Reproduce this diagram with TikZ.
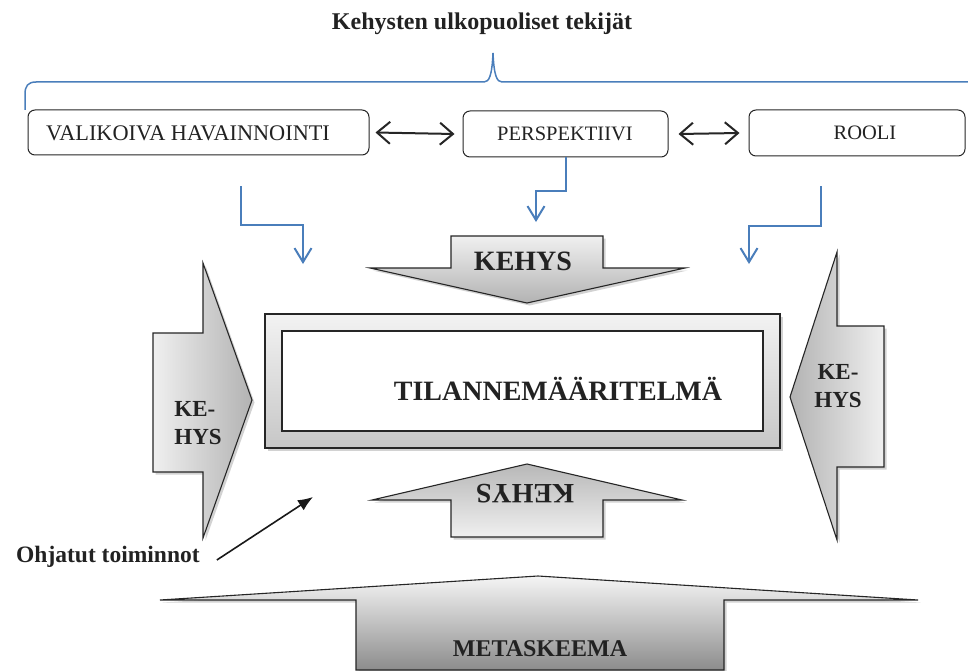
\documentclass[tikz,border=0pt]{standalone}
\usepackage{fontspec}
\setmainfont{Liberation Serif}
\usetikzlibrary{arrows.meta,shadows,calc}
\definecolor{braceblue}{HTML}{4A7EBB}
\definecolor{txt}{HTML}{222222}
\begin{document}
\begin{tikzpicture}[x=1pt,y=-1pt,
  box/.style={draw=black!85, line width=1pt, rounded corners=7pt, fill=white, minimum height=46pt, inner sep=0pt},
  boxtext/.style={font=\fontsize{20.5}{24}\selectfont, text=txt},
  dblarrow/.style={{Straight Barb[length=13pt,width=22pt]}-{Straight Barb[length=13pt,width=22pt]}, line width=2pt, draw=black!85},
  bluearrow/.style={-{Straight Barb[length=14pt,width=17pt]}, line width=2pt, draw=braceblue},
  bigarrow/.style={draw=black!85, line width=1.1pt, line join=miter, drop shadow={shadow xshift=2.5pt, shadow yshift=-2.5pt, opacity=0.35}},
  kfont/.style={font=\bfseries\fontsize{23}{28}\selectfont, text=txt},
]
\useasboundingbox (0,0) rectangle (968,671);
\fill[white] (0,0) rectangle (968,671);

% title
\node[font=\bfseries\fontsize{24}{28}\selectfont, text=txt, anchor=base] (title) at (482,30) {Kehysten ulkopuoliset tekijät};

% brace
\draw[braceblue, line width=1.5pt] (25,110) -- (25,94) .. controls (25,86) and (28,82) .. (36,82) -- (484,82) .. controls (489,82) and (492,76) .. (493,53) .. controls (494,76) and (497,82) .. (502,82) -- (968,82);

% boxes
\node[box, minimum width=341pt, minimum height=45pt] (v) at (198.5,132.5) {};
\node[font=\fontsize{22.3}{26}\selectfont, text=txt] (vt) at (188,133) {VALIKOIVA HAVAINNOINTI};
\node[box, minimum width=205pt] (p) at (565.5,134) {};
\node[boxtext] (pt) at (565,134) {PERSPEKTIIVI};
\node[box, minimum width=216pt] (r) at (857,133) {};
\node[boxtext] (rt) at (865,133) {ROOLI};

% double arrows
\draw[dblarrow] ([xshift=6pt]v.east) -- ([xshift=-8pt]p.west);
\draw[dblarrow] ([xshift=10pt]p.east) -- ([xshift=-9pt]r.west);

% blue elbow arrows
\coordinate (b1s) at (241,186);
\coordinate (b1e) at (303,264);
\draw[bluearrow] (b1s) |- ($(b1e)+(0,-39)$) -- (b1e);
\coordinate (b2e) at (536,222);
\draw[bluearrow] (p.south) -- ++(0,33) -| (b2e);
\coordinate (b3s) at (821,186);
\coordinate (b3e) at (749,264);
\draw[bluearrow] (b3s) |- ($(b3e)+(0,-38)$) -- (b3e);

% top KEHYS arrow
\path[bigarrow, top color=black!6, bottom color=black!30]
  (451,236) -- (603,236) -- (603,268) -- (685,268) -- (527,303) -- (370,268) -- (451,268) -- cycle;
\node[font=\bfseries\fontsize{28}{32}\selectfont, text=txt, anchor=base] (tk) at (523,270) {KEHYS};

% bottom KEHYS arrow
\path[bigarrow, top color=black!28, bottom color=black!6]
  (527,464) -- (682,500) -- (603,500) -- (603,537) -- (451,537) -- (451,500) -- (372,500) -- cycle;
\node[font=\bfseries\fontsize{28}{32}\selectfont, text=txt, rotate=180] (bk) at (525,494) {KEHYS};

% left KEHYS arrow
\path[bigarrow, left color=black!6, right color=black!30]
  (153,333) -- (203,333) -- (203,263) -- (252,400) -- (203,538) -- (203,472) -- (153,472) -- cycle;
\node[kfont, align=left] (lk) at (198,423) {KE-\\HYS};

% right KEHYS arrow
\path[bigarrow, left color=black!30, right color=black!6]
  (884,326) -- (837,326) -- (837,252) -- (790,397) -- (837,540) -- (837,467) -- (884,467) -- cycle;
\node[kfont, align=center] (rk) at (838,386) {KE-\\HYS};

% central double frame
\path[bigarrow, top color=black!5, bottom color=black!22] (265,314) rectangle (780,448);
\path[draw=black!85, line width=1.2pt, fill=white] (282,331) rectangle (763,431);
\node[font=\bfseries\fontsize{28}{32}\selectfont, text=txt, anchor=base] (tl) at (558,400) {TILANNEMÄÄRITELMÄ};

% Ohjatut toiminnot
\node[font=\bfseries\fontsize{23.5}{28}\selectfont, text=txt, anchor=base west, inner sep=0pt] (ot) at (16,562) {Ohjatut toiminnot};
\coordinate (os) at ($(ot.base east)+(17,-2)$);
\coordinate (oe) at (313,497);
\draw[-{Latex[length=15pt,width=12pt]}, line width=1.6pt, black!90] (os) -- (oe);

% METASKEEMA arrow
\path[bigarrow, top color=black!4, bottom color=black!45]
  (356,670) -- (356,600) -- (160,600) -- (538,576) -- (918,600) -- (724,600) -- (724,670) -- cycle;
\node[font=\bfseries\fontsize{24}{28}\selectfont, text=txt, anchor=base] (mk) at (540,656) {METASKEEMA};
\end{tikzpicture}
\end{document}
